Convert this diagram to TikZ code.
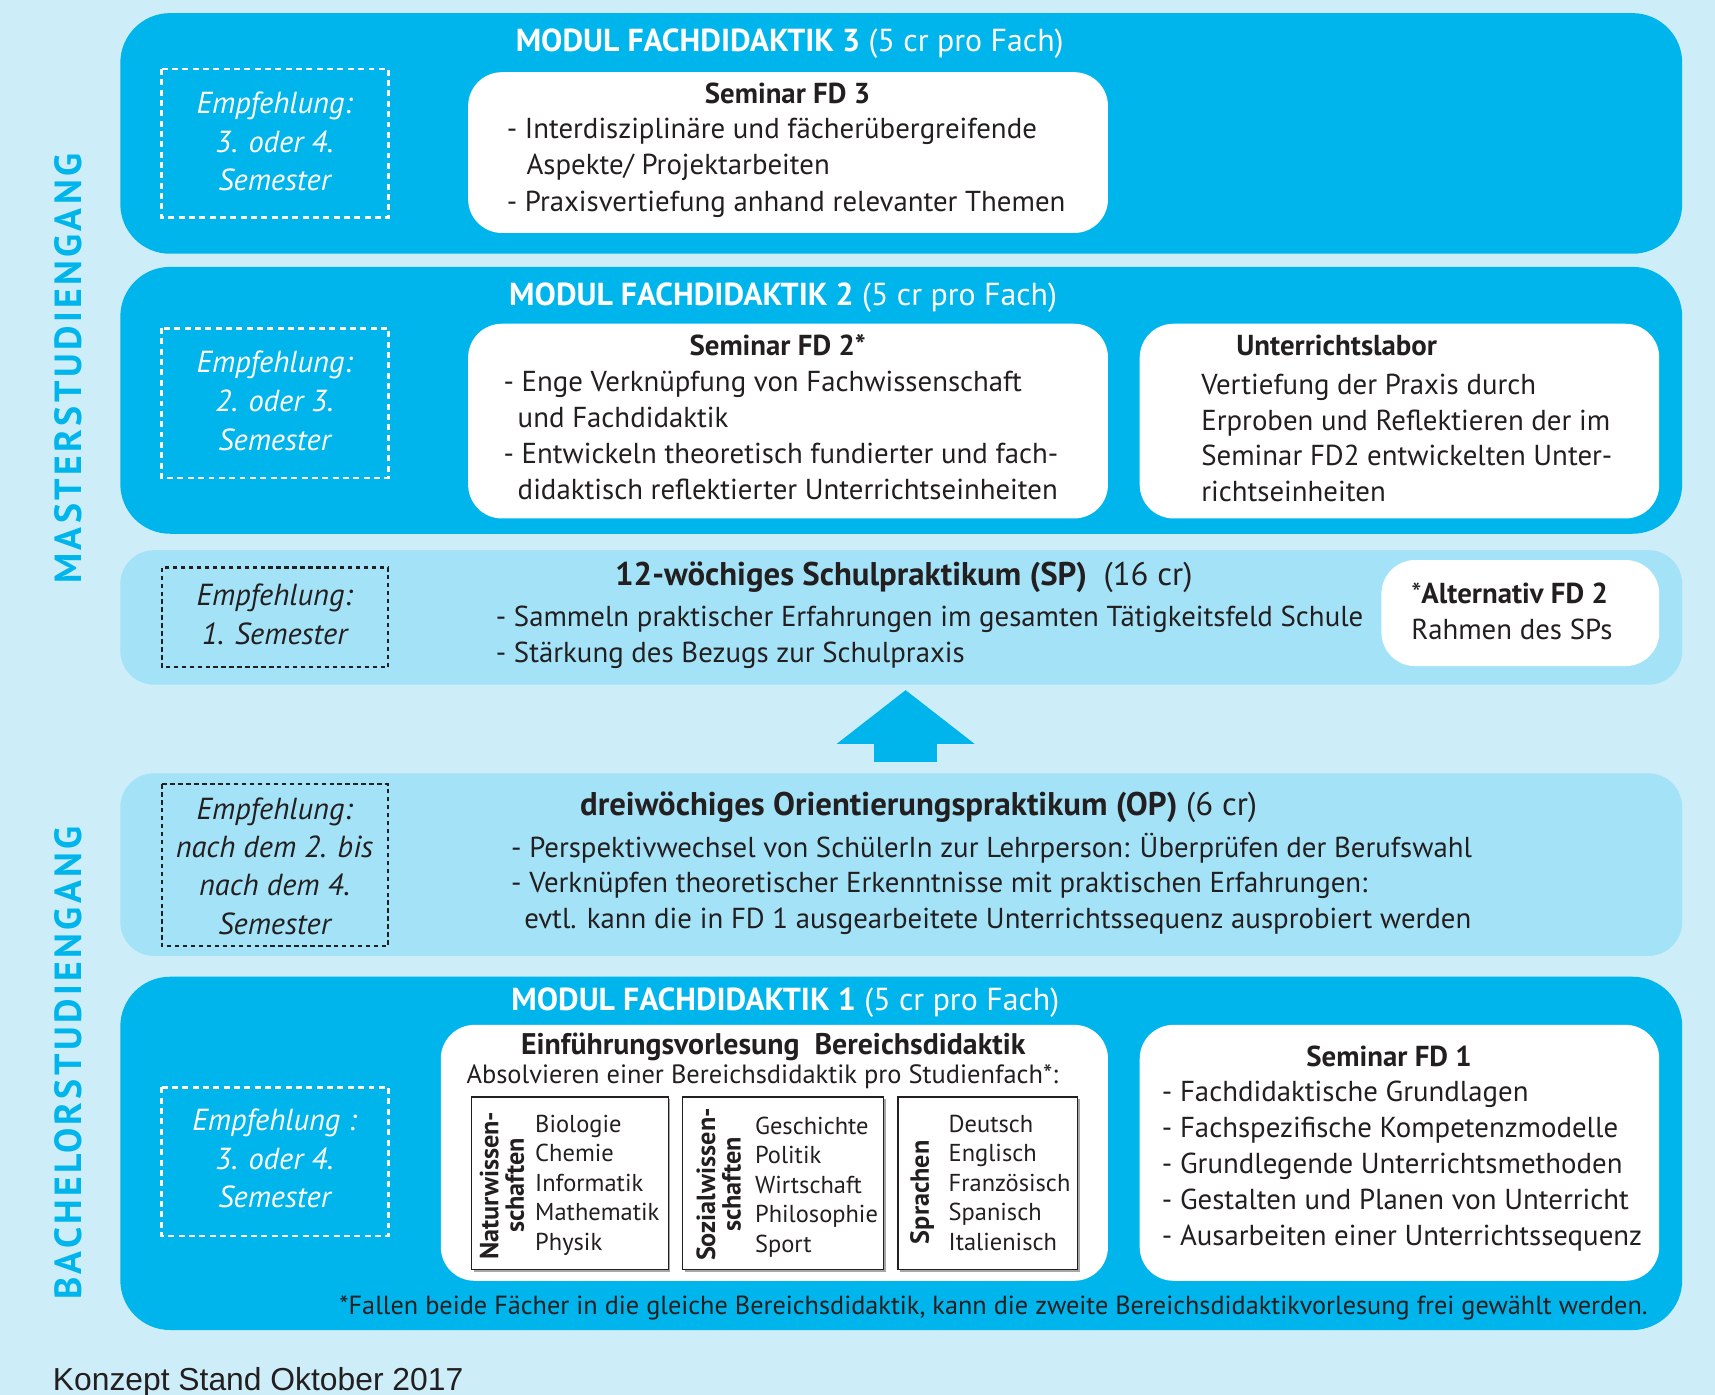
\documentclass[tikz,border=0pt]{standalone}
\usepackage{fontspec}
\setmainfont{PT Sans}
\newfontfamily\konzeptfont{Liberation Sans}
\newfontfamily\stufefont[LetterSpace=9]{PT Sans}
\usetikzlibrary{arrows.meta}
\definecolor{bgblue}{HTML}{CDEEF9}
\definecolor{modblue}{HTML}{00B5EC}
\definecolor{prakblue}{HTML}{A4E3F7}
\definecolor{ink}{HTML}{231F20}
\begin{document}
\begin{tikzpicture}[x=0.55pt,y=-0.55pt,
  modbox/.style={fill=modblue,rounded corners=25pt},
  prakbox/.style={fill=prakblue,rounded corners=17pt},
  inhalt/.style={fill=white,rounded corners=17pt},
  empfw/.style={draw=white,line width=1.4pt,dash pattern=on 3pt off 2.2pt},
  empfd/.style={draw=ink,line width=1.2pt,dash pattern=on 2.2pt off 1.8pt},
  fach/.style={draw=ink,line width=0.6pt,fill=white},
  txt/.style={inner sep=0pt,anchor=base west,text=ink,font=\fontsize{14.5}{17}\selectfont},
  fett/.style={txt,font=\fontsize{14.5}{17}\selectfont\bfseries},
  kopf/.style={txt,font=\fontsize{16.5}{19}\selectfont},
  klein/.style={txt,font=\fontsize{12.3}{14}\selectfont},
  titel/.style={inner sep=0pt,anchor=base,text=white,font=\fontsize{16}{19}\selectfont},
  empf/.style={inner sep=0pt,anchor=base,font=\fontsize{15.3}{18}\selectfont\itshape},
  bereich/.style={inner sep=0pt,rotate=90,align=center,text=ink,font=\fontsize{13.2}{12.8}\selectfont\bfseries},
  stufe/.style={inner sep=0pt,rotate=90,text=modblue,font=\stufefont\fontsize{19}{20}\selectfont\bfseries}]
\fill[bgblue] (0,0) rectangle (1568,1275);
\useasboundingbox (0,0) rectangle (1568,1275);
\fill[modbox] (110,12) rectangle (1538,232);
\fill[modbox] (110,244) rectangle (1538,488);
\fill[prakbox] (110,503) rectangle (1538,626);
\fill[prakbox] (110,707) rectangle (1538,874);
\fill[modbox] (110,893) rectangle (1538,1216);
\fill[inhalt] (428,66) rectangle (1013,213);
\fill[inhalt] (428,296) rectangle (1013,474);
\fill[inhalt] (1042,296) rectangle (1517,474);
\fill[inhalt] (1263,512) rectangle (1517,609);
\fill[inhalt] (403,937) rectangle (1013,1171);
\fill[inhalt] (1042,937) rectangle (1517,1171);
\draw[empfw] (148,63) rectangle (355,199);
\draw[empfw] (148,300) rectangle (355,437);
\draw[empfd] (148,519) rectangle (355,610);
\draw[empfd] (148,717) rectangle (355,865);
\draw[empfw] (148,994) rectangle (355,1130);
\foreach \a/\b in {431/611,624/808,821/985}{\fill[black!35] (\a+2,1005) rectangle (\b+2,1163); \draw[fach] (\a,1003) rectangle (\b,1161);}
\node[stufe] (master) at (62,337) {MASTERSTUDIENGANG};
\node[stufe] (bachelor) at (62,972) {BACHELORSTUDIENGANG};
\node[titel] (moddrei) at (722,47) {\textbf{MODUL FACHDIDAKTIK 3} (5 cr pro Fach)};
\foreach \t [count=\i] in {Empfehlung:,3. oder 4.,Semester} \node[empf,text=white] (empfdrei\i) at (251,{104+35*(\i-1)}) {\t};
\node[fett,anchor=base] (semdrei) at (720,95) {Seminar FD 3};
\node[txt] (semdrei1) at (463,127) {- Interdisziplinäre und fächerübergreifende};
\node[txt] (semdrei2) at (481,160) {Aspekte/ Projektarbeiten};
\node[txt] (semdrei3) at (463,193) {- Praxisvertiefung anhand relevanter Themen};
\node[titel] (modzwei) at (716,279) {\textbf{MODUL FACHDIDAKTIK 2} (5 cr pro Fach)};
\foreach \t [count=\i] in {Empfehlung:,2. oder 3.,Semester} \node[empf,text=white] (empfzwei\i) at (251,{341+35.5*(\i-1)}) {\t};
\node[fett,anchor=base] (semzwei) at (711,325) {Seminar FD 2*};
\node[txt] (semzwei1) at (460,358) {- Enge Verknüpfung von Fachwissenschaft};
\node[txt] (semzwei2) at (473,391) {und Fachdidaktik};
\node[txt] (semzwei3) at (460,424) {- Entwickeln theoretisch fundierter und fach-};
\node[txt] (semzwei4) at (473,457) {didaktisch reflektierter Unterrichtseinheiten};
\node[fett] (labor) at (1130,325) {Unterrichtslabor};
\foreach \t [count=\i] in {Vertiefung der Praxis durch,Erproben und Reflektieren der im,Seminar FD2 entwickelten Unter-,richtseinheiten} \node[txt] (labor\i) at (1098,{361+32.5*(\i-1)}) {\t};
\foreach \t [count=\i] in {Empfehlung:,1. Semester} \node[empf,text=ink] (empfsp\i) at (251,{554+35*(\i-1)}) {\t};
\node[kopf] (sp) at (562,535) {\textbf{12-wöchiges Schulpraktikum (SP)}\enspace(16 cr)};
\node[txt] (sp1) at (453,573) {- Sammeln praktischer Erfahrungen im gesamten Tätigkeitsfeld Schule};
\node[txt] (sp2) at (453,606) {- Stärkung des Bezugs zur Schulpraxis};
\node[txt] (alt1) at (1290,552) {*\textbf{Alternativ FD 2}};
\node[txt] (alt2) at (1290,585) {Rahmen des SPs};
\coordinate (pfeilfuss) at (828,697);
\coordinate (pfeilspitze) at (828,631);
\draw[modblue,line width=31.4pt,-{Triangle[width=69.3pt,length=27pt,line width=0pt]}] (pfeilfuss) -- (pfeilspitze);
\foreach \t [count=\i] in {Empfehlung:,nach dem 2. bis,nach dem 4.,Semester} \node[empf,text=ink] (empfop\i) at (251,{749+35*(\i-1)}) {\t};
\node[kopf] (op) at (530,746) {\textbf{dreiwöchiges Orientierungspraktikum (OP)} (6 cr)};
\node[txt] (op1) at (467,784) {- Perspektivwechsel von SchülerIn zur Lehrperson: Überprüfen der Berufswahl};
\node[txt] (op2) at (467,816) {- Verknüpfen theoretischer Erkenntnisse mit praktischen Erfahrungen:};
\node[txt] (op3) at (479,849) {evtl. kann die in FD 1 ausgearbeitete Unterrichtssequenz ausprobiert werden};
\node[titel] (modeins) at (718,924) {\textbf{MODUL FACHDIDAKTIK 1} (5 cr pro Fach)};
\foreach \t [count=\i] in {Empfehlung :,3. oder 4.,Semester} \node[empf,text=white] (empfeins\i) at (251,{1034+35*(\i-1)}) {\t};
\node[txt,anchor=base,font=\fontsize{15}{17}\selectfont\bfseries] (vorl) at (707,964) {Einführungsvorlesung\ \ Bereichsdidaktik};
\node[txt,anchor=base,font=\fontsize{13.3}{15}\selectfont] (vorl1) at (697,991) {Absolvieren einer Bereichsdidaktik pro Studienfach*:};
\node[bereich] (natur) at (459,1084) {Naturwissen-\\schaften};
\node[bereich] (sozial) at (657,1083) {Sozialwissen-\\schaften};
\node[bereich] (sprach) at (843,1090) {Sprachen};
\foreach \t [count=\i] in {Biologie,Chemie,Informatik,Mathematik,Physik} \node[klein] (natur\i) at (489,{1035+27*(\i-1)}) {\t};
\foreach \t [count=\i] in {Geschichte,Politik,Wirtschaft,Philosophie,Sport} \node[klein] (sozial\i) at (690,{1037+27*(\i-1)}) {\t};
\foreach \t [count=\i] in {Deutsch,Englisch,Französisch,Spanisch,Italienisch} \node[klein] (sprach\i) at (867,{1035+27*(\i-1)}) {\t};
\node[fett,anchor=base] (semeins) at (1270,975) {Seminar FD 1};
\foreach \t [count=\i] in {- Fachdidaktische Grundlagen,- Fachspezifische Kompetenzmodelle,- Grundlegende Unterrichtsmethoden,- Gestalten und Planen von Unterricht,- Ausarbeiten einer Unterrichtssequenz} \node[txt] (semeins\i) at (1062,{1007+33*(\i-1)}) {\t};
\node[txt,font=\fontsize{13.2}{15}\selectfont] (fussnote) at (310,1202) {*Fallen beide Fächer in die gleiche Bereichsdidaktik, kann die zweite Bereichsdidaktikvorlesung frei gewählt werden.};
\node[inner sep=0pt,anchor=base west,text=ink,font=\konzeptfont\fontsize{16}{18}\selectfont] (stand) at (48,1271) {Konzept Stand Oktober 2017};
\end{tikzpicture}
\end{document}
